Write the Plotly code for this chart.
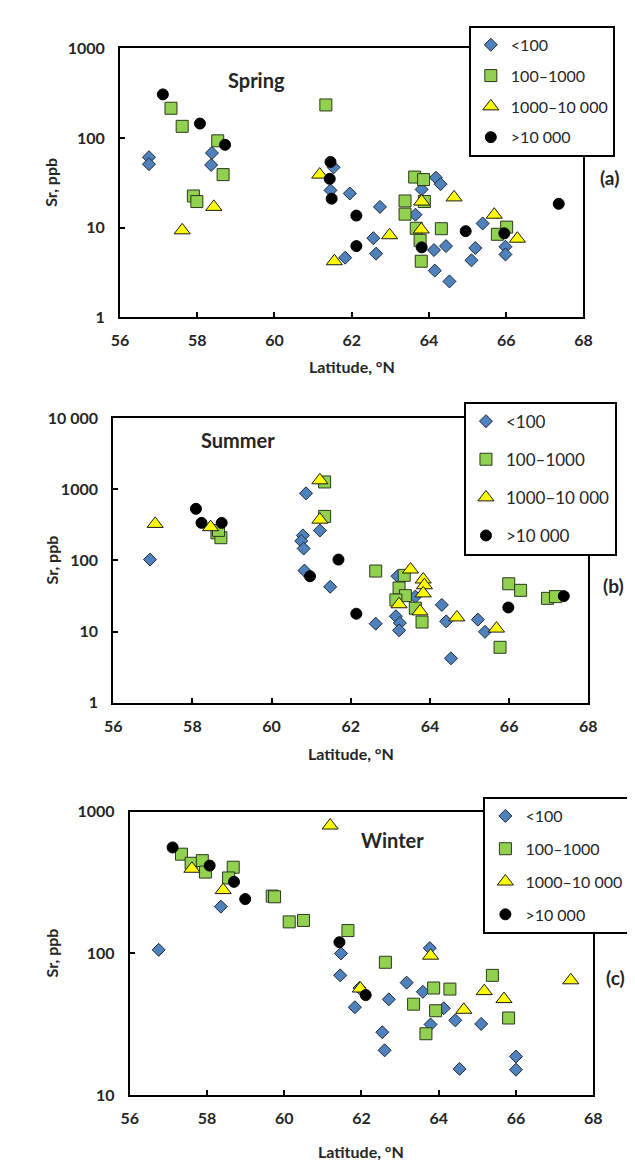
import plotly.graph_objects as go

W, H = 635, 1160

categories = ["<100", "100–1000", "1000–10 000", ">10 000"]

# ---------------- Spring (a) ----------------
spring_lt100_lat = [56.75, 56.75, 58.38, 58.36, 61.53, 61.45, 61.95, 61.83, 62.73, 62.56, 62.63, 64.18,
                    64.30, 63.81, 63.65, 64.13, 64.44, 64.15, 64.53, 65.39, 65.20, 65.10, 65.98, 65.98]
spring_lt100_sr = [61, 51, 68, 50, 47, 26, 24, 4.6, 17, 7.6, 5.1, 36,
                   30.5, 26.6, 13.9, 5.6, 6.2, 3.3, 2.5, 11.1, 5.9, 4.3, 6.1, 5.0]
spring_100_1000_lat = [57.32, 57.61, 58.53, 58.67, 57.90, 57.99, 61.33, 63.63, 63.86, 63.38, 63.88,
                       63.38, 63.67, 64.32, 63.77, 63.80, 66.01, 65.77]
spring_100_1000_sr = [215, 135, 93, 39, 22.5, 19.5, 234, 36.6, 34.3, 19.8, 19.5,
                      14.1, 9.8, 9.7, 7.2, 4.2, 10.1, 8.4]
spring_1000_10000_lat = [58.43, 57.61, 61.17, 61.55, 62.98, 63.81, 64.65, 63.80, 65.69, 66.29]
spring_1000_10000_sr = [17, 9.3, 39, 4.2, 8.2, 19.5, 21.7, 9.5, 13.9, 7.5]
spring_gt10000_lat = [57.11, 58.07, 58.72, 61.45, 61.43, 61.48, 62.12, 62.12, 63.81, 64.95, 65.95, 67.36]
spring_gt10000_sr = [307, 145, 84, 54, 35, 21, 13.6, 6.2, 6.0, 9.1, 8.6, 18.4]

# ---------------- Summer (b) ----------------
summer_lt100_lat = [56.93, 60.87, 61.22, 60.79, 60.75, 60.81, 60.83, 61.48, 62.63, 63.18, 63.63, 63.14,
                    63.24, 63.22, 64.30, 64.41, 65.21, 65.39, 64.53]
summer_lt100_sr = [103, 880, 264, 225, 188, 147, 72, 42.6, 12.9, 60, 31, 16.4,
                   13.2, 10.4, 23.7, 13.9, 14.7, 9.9, 4.2]
summer_100_1000_lat = [58.62, 58.72, 58.66, 61.34, 61.34, 62.63, 63.35, 63.22, 63.38, 63.14, 63.63,
                       63.80, 65.99, 66.29, 66.97, 67.17, 65.77]
summer_100_1000_sr = [245, 209, 265, 1273, 417, 71, 61.7, 41, 32, 27.8, 21.3,
                      13.6, 47, 38, 29.3, 31, 6.0]
summer_1000_10000_lat = [57.06, 58.46, 61.22, 61.22, 63.51, 63.22, 63.83, 63.86, 63.83, 63.75, 64.68, 65.68]
summer_1000_10000_sr = [327, 294, 1343, 375, 74.6, 24.2, 54, 44.8, 34.4, 19.2, 15.8, 11]
summer_gt10000_lat = [58.09, 58.23, 58.74, 60.97, 61.69, 62.14, 65.98, 67.38]
summer_gt10000_sr = [533, 338, 338, 60, 103, 17.8, 21.8, 31.5]

# ---------------- Winter (c) ----------------
winter_lt100_lat = [56.75, 58.36, 61.47, 61.45, 61.95, 61.83, 62.71, 62.54, 62.60, 63.17, 63.59, 63.77,
                    64.13, 63.79, 64.43, 64.54, 65.10, 66.0, 66.0]
winter_lt100_sr = [106, 214, 100, 70, 57, 41.7, 47.4, 27.8, 20.7, 62.2, 53.6, 109,
                   41, 31.5, 33.7, 15.3, 31.8, 18.7, 15.1]
winter_100_1000_lat = [57.34, 57.59, 57.88, 57.96, 58.68, 58.56, 59.69, 59.75, 60.13, 60.50, 61.65,
                       62.62, 63.35, 63.87, 64.29, 63.92, 63.67, 65.39, 65.81]
winter_100_1000_sr = [502, 433, 452, 375, 406, 341, 254, 251, 167, 171, 145,
                      86.6, 43.8, 57, 56, 39.4, 27.1, 70, 35]
winter_1000_10000_lat = [57.61, 58.42, 61.19, 61.97, 63.79, 64.65, 65.18, 65.69, 67.42]
winter_1000_10000_sr = [396, 280, 800, 56.5, 96.4, 40, 54.2, 47.6, 64.6]
winter_gt10000_lat = [57.11, 58.07, 58.70, 58.99, 61.43, 62.11]
winter_gt10000_sr = [560, 417, 320, 242, 120, 50.8]

x_ticks = [56, 58, 60, 62, 64, 66, 68]

# ---------------- styling ----------------
styles = [
    dict(symbol="diamond", size=10, color="#4F81BD", line=dict(color="#1f2a36", width=1)),
    dict(symbol="square", size=12, color="#92D050", line=dict(color="#2b3a1e", width=1)),
    dict(symbol="triangle-up", size=14, color="#FFFF00", line=dict(color="#1a1a1a", width=1)),
    dict(symbol="circle", size=11, color="#000000", line=dict(color="#000000", width=1)),
]

FONT = "Lato"
TXT = "#262626"

panels = [
    dict(lats=[spring_lt100_lat, spring_100_1000_lat, spring_1000_10000_lat, spring_gt10000_lat],
         srs=[spring_lt100_sr, spring_100_1000_sr, spring_1000_10000_sr, spring_gt10000_sr],
         px=(106, 583), py=(31, 304), yrange=(0, 3),
         yticks=[1, 10, 100, 1000], yticktext=["1", "10", "100", "1000"],
         title="Spring", title_xy=(247, 63), label="(a)", label_xy=(610, 162),
         leg_xy=(465, 8), leg_font=16, leg_gap=7, xtitle_y=354),
    dict(lats=[summer_lt100_lat, summer_100_1000_lat, summer_1000_10000_lat, summer_gt10000_lat],
         srs=[summer_lt100_sr, summer_100_1000_sr, summer_1000_10000_sr, summer_gt10000_sr],
         px=(99, 588), py=(407, 696), yrange=(0, 4),
         yticks=[1, 10, 100, 1000, 10000], yticktext=["1", "10", "100", "1000", "10 000"],
         title="Summer", title_xy=(227, 429), label="(b)", label_xy=(614, 577),
         leg_xy=(460, 390), leg_font=17, leg_gap=13, xtitle_y=748),
    dict(lats=[winter_lt100_lat, winter_100_1000_lat, winter_1000_10000_lat, winter_gt10000_lat],
         srs=[winter_lt100_sr, winter_100_1000_sr, winter_1000_10000_sr, winter_gt10000_sr],
         px=(116, 593), py=(807, 1095), yrange=(1, 3),
         yticks=[10, 100, 1000], yticktext=["10", "100", "1000"],
         title="Winter", title_xy=(386, 836), label="(c)", label_xy=(616, 975),
         leg_xy=(480, 792), leg_font=16, leg_gap=9, xtitle_y=1152),
]

fig = go.Figure()
annotations = []
layout = {}

for i, p in enumerate(panels):
    n = "" if i == 0 else str(i + 1)
    legname = "legend" + n
    for j in range(4):
        fig.add_trace(go.Scatter(
            x=p["lats"][j], y=p["srs"][j], mode="markers", name=categories[j],
            marker=styles[j], xaxis="x" + n, yaxis="y" + n,
            legend=legname, legendgroup=f"{i}-{j}", showlegend=True,
        ))
    x0, x1 = p["px"]
    y0, y1 = p["py"]
    axis_common = dict(
        showline=True, linecolor="black", linewidth=2, mirror=True,
        ticks="inside", ticklen=5, tickwidth=2, tickcolor="black",
        showgrid=False, zeroline=False,
        tickfont=dict(family=FONT, size=16, color=TXT, weight="bold"),
    )
    layout["xaxis" + n] = dict(
        domain=[x0 / W, x1 / W], range=[56, 68], tickvals=x_ticks,
        anchor="y" + n, ticklabelstandoff=8, **axis_common)
    layout["yaxis" + n] = dict(
        domain=[1 - y1 / H, 1 - y0 / H], type="log", range=list(p["yrange"]),
        tickvals=p["yticks"], ticktext=p["yticktext"],
        anchor="x" + n, ticklabelstandoff=10, **axis_common)
    lx, ly = p["leg_xy"]
    layout[legname] = dict(
        x=lx / W, y=1 - ly / H, xanchor="left", yanchor="top",
        bgcolor="white", bordercolor="black", borderwidth=2,
        font=dict(family=FONT, size=p["leg_font"], color=TXT),
        tracegroupgap=p["leg_gap"], itemsizing="trace",
    )
    tx, ty = p["title_xy"]
    annotations.append(dict(text=p["title"], x=tx / W, y=1 - ty / H, xref="paper", yref="paper",
                            showarrow=False, xanchor="center", yanchor="middle",
                            font=dict(family=FONT, size=20, color=TXT, weight="bold")))
    lbx, lby = p["label_xy"]
    annotations.append(dict(text=p["label"], x=lbx / W, y=1 - lby / H, xref="paper", yref="paper",
                            showarrow=False, xanchor="center", yanchor="middle",
                            font=dict(family=FONT, size=19, color=TXT, weight="bold")))
    annotations.append(dict(text="Latitude, °N", x=((x0 + x1) / 2) / W, y=1 - p["xtitle_y"] / H,
                            xref="paper", yref="paper", showarrow=False,
                            xanchor="center", yanchor="middle",
                            font=dict(family=FONT, size=16, color=TXT, weight="bold")))
    annotations.append(dict(text="Sr, ppb", x=35 / W, y=1 - ((y0 + y1) / 2) / H,
                            xref="paper", yref="paper", showarrow=False, textangle=-90,
                            xanchor="center", yanchor="middle",
                            font=dict(family=FONT, size=16, color=TXT, weight="bold")))

fig.update_layout(
    width=W, height=H, margin=dict(l=0, r=0, t=0, b=0),
    paper_bgcolor="white", plot_bgcolor="white",
    annotations=annotations, **layout,
)

fig.write_html("out.html")
